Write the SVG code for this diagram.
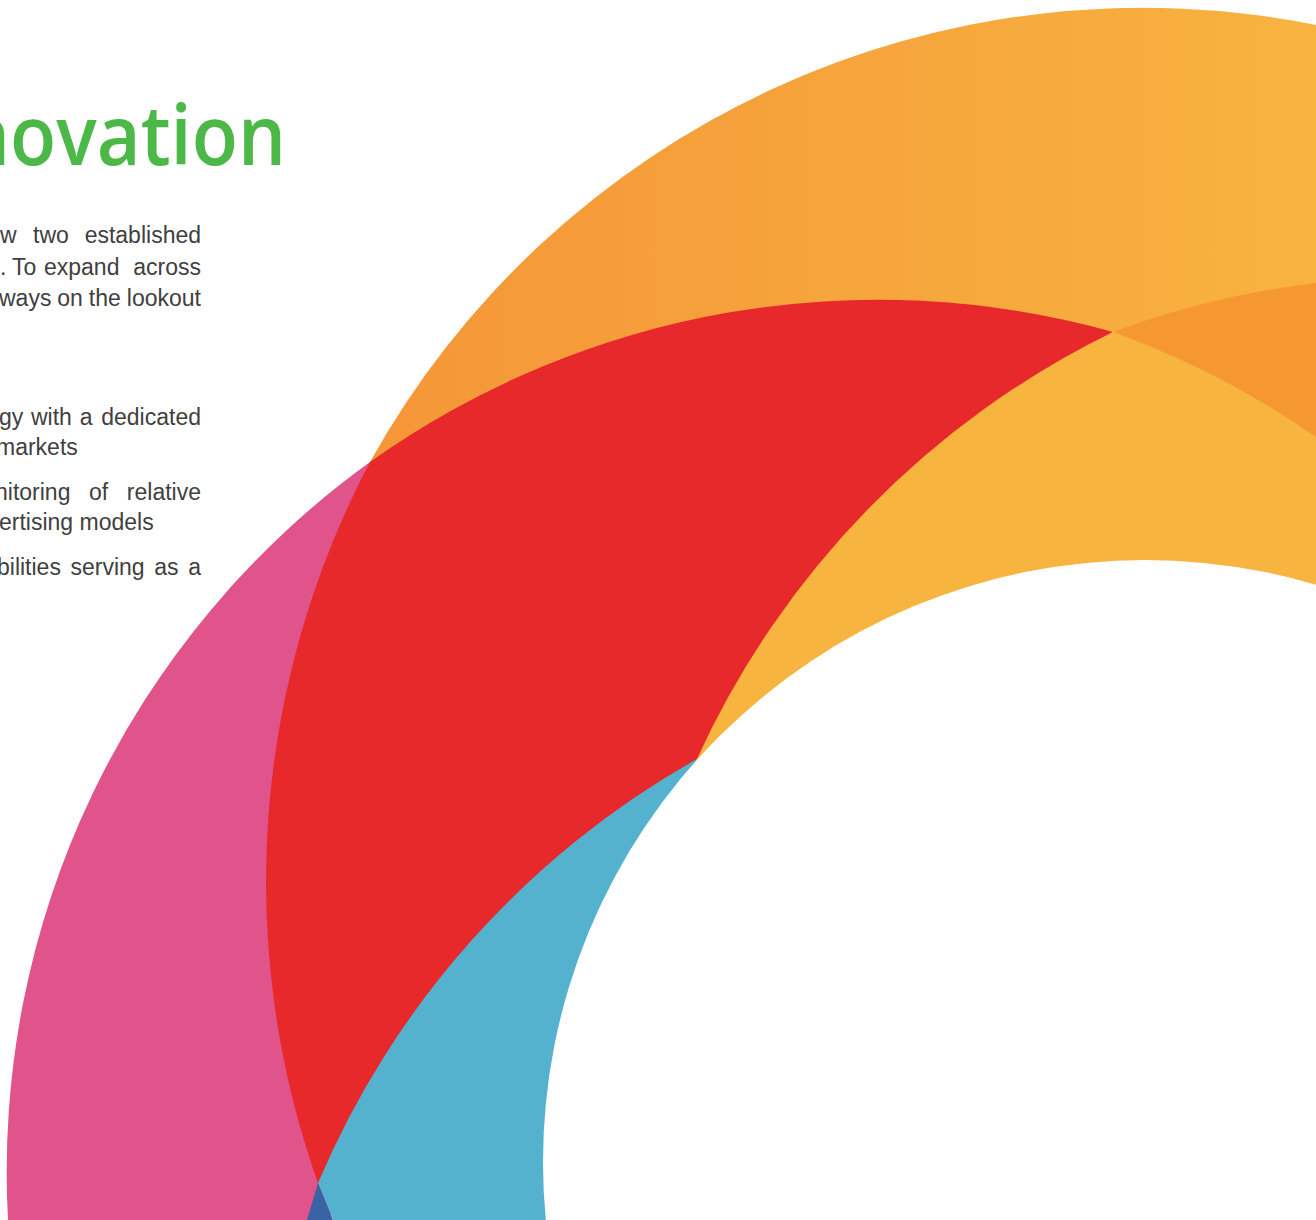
<svg xmlns="http://www.w3.org/2000/svg" width="1316" height="1220" viewBox="0 0 1316 1220">
  <defs>
    <linearGradient id="orangeGrad" gradientUnits="userSpaceOnUse" x1="370" y1="0" x2="1316" y2="0">
      <stop offset="0" stop-color="#F59638"/>
      <stop offset="0.52" stop-color="#F6A53C"/>
      <stop offset="1" stop-color="#F8B33F"/>
    </linearGradient>
    <style>
      .title { font-family: "Open Sans", "Noto Sans", sans-serif; font-size: 83px; font-weight: 600; fill: #4BB848; }
      .body { font-family: "Liberation Sans", Arial, sans-serif; font-size: 23px; fill: #404041; }
    </style>
  </defs>
  <rect width="1316" height="1220" fill="#FFFFFF"/>

  <g id="text">
    <text class="title" x="286" y="165" text-anchor="end" textLength="324" lengthAdjust="spacingAndGlyphs">novation</text>
    <g class="body">
      <text x="0" y="243">w</text>
      <text x="33" y="243">two</text>
      <text x="201" y="243" text-anchor="end">established</text>
      <text x="0" y="275">.</text>
      <text x="12" y="275">To</text>
      <text x="44" y="275">expand</text>
      <text x="201" y="275" text-anchor="end">across</text>
      <text x="-1" y="306">ways</text>
      <text x="57.3" y="306">on</text>
      <text x="88.8" y="306">the</text>
      <text x="201" y="306" text-anchor="end">lookout</text>
      <text x="-1" y="425">gy</text>
      <text x="31" y="425">with</text>
      <text x="79.8" y="425">a</text>
      <text x="201" y="425" text-anchor="end">dedicated</text>
      <text x="-4" y="455">markets</text>
      <text x="-5" y="500">nitoring</text>
      <text x="89" y="500">of</text>
      <text x="201" y="500" text-anchor="end">relative</text>
      <text x="-1" y="530">ertising models</text>
      <text x="-3" y="575">bilities</text>
      <text x="70.5" y="575">serving</text>
      <text x="154.2" y="575">as</text>
      <text x="201" y="575" text-anchor="end">a</text>
    </g>
  </g>

  <g id="rings">
    <path id="orange" fill="url(#orangeGrad)" d="M370,462 A884,884 0 0 1 1316,25 L1316,300 L1113,332 Z"/>
    <path id="dark-orange" fill="#F69832" d="M1113,332 A880,880 0 0 1 1316,283 L1316,445 Z"/>
    <path id="pink" fill="#E0538B" d="M370,462 A875,875 0 0 0 8,1220 L330,1220 L420,700 Z"/>
    <path id="red" fill="#E7292B" d="M370,462 A875,875 0 0 1 1113,332 L697,759 L318,1183 A899,899 0 0 1 370,462 Z"/>
    <path id="yellow" fill="#F7B43F" d="M1113,332 A882,882 0 0 0 697,759 L900,1000 L1316,700 L1316,437 A880,880 0 0 0 1113,332 Z"/>
    <path id="blue" fill="#55B2CF" d="M697,759 A880,880 0 0 0 318,1183 L334,1222 L560,1222 L800,900 Z"/>
    <path id="dark-blue" fill="#3A63A4" d="M318,1183 L304,1230 L337,1230 Z"/>
    <circle id="hole" cx="1145" cy="1162" r="602" fill="#FFFFFF"/>
  </g>
</svg>
